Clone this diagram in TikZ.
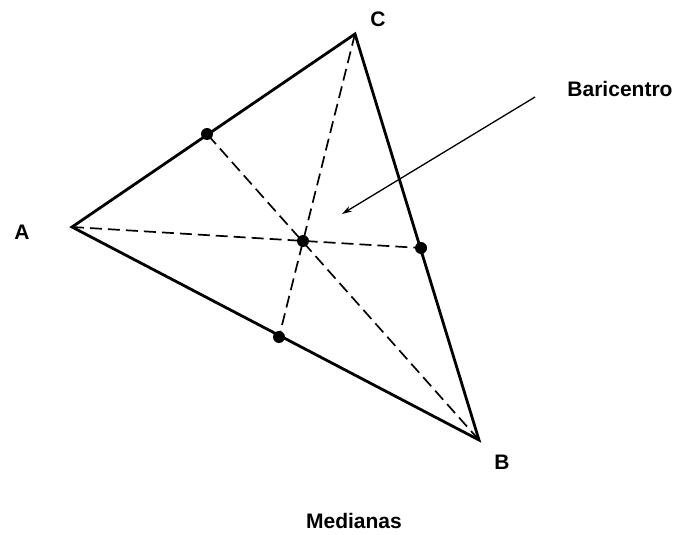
\documentclass[tikz,border=0pt]{standalone}
\usepackage{fontspec}
\setmainfont{Liberation Sans}
\usetikzlibrary{arrows.meta}
\begin{document}
\begin{tikzpicture}[x=1pt,y=-1pt,
  side/.style={line width=2.8pt,line cap=round,line join=miter},
  median/.style={line width=1.7pt,dash pattern=on 12pt off 6pt},
  dotnode/.style={circle,fill=black,inner sep=0pt,minimum size=12pt},
  lbl/.style={font=\fontsize{21}{24}\selectfont\bfseries,inner sep=0pt},
  pointer/.style={line width=1.3pt,-{Stealth[length=10pt,width=6pt]}}]
\useasboundingbox (0,0) rectangle (681,535);
\coordinate (A) at (72,227);
\coordinate (B) at (479,440);
\coordinate (C) at (355,34);
\node[dotnode] (mAC) at (207,134) {};
\node[dotnode] (mCB) at (421,248) {};
\node[dotnode] (mAB) at (279,337) {};
\node[dotnode] (G) at (303,241) {};
\draw[median] (A) -- (mCB.center);
\draw[median] (C) -- (mAB.center);
\draw[median] (B) -- (mAC.center);
\draw[side] (A) -- (C) -- (B) -- cycle;
\node[lbl] (lA) at (22,232) {A};
\node[lbl] (lB) at (502,462) {B};
\node[lbl] (lC) at (378,19) {C};
\node[lbl] (bar) at (620,89) {Baricentro};
\node[lbl] (med) at (354,521) {Medianas};
\coordinate (p0) at (535,97);
\coordinate (p1) at (342,214);
\draw[pointer] (p0) -- (p1);
\end{tikzpicture}
\end{document}
